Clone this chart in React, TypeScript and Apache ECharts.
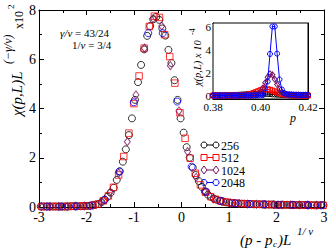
import React, { useEffect, useRef } from 'react';
import * as echarts from 'echarts';

// ---------------- data ----------------
const SIZE_LABELS = ['256', '512', '1024', '2048'];
const SIZES = [256, 512, 1024, 2048];
const COLORS = ['#000000', '#ff0000', '#7a1060', '#0000ff'];
const PC = 0.4073; // critical point
const GAMMA_NU = 43 / 24;
const INV_NU = 3 / 4;

const P_256 = [0.361, 0.362, 0.363, 0.364, 0.365, 0.366, 0.367, 0.368, 0.369, 0.370,
  0.371, 0.372, 0.373, 0.374, 0.375, 0.376, 0.377, 0.378, 0.379, 0.380,
  0.381, 0.382, 0.383, 0.384, 0.385, 0.386, 0.387, 0.388, 0.389, 0.390,
  0.391, 0.392, 0.393, 0.394, 0.395, 0.396, 0.397, 0.398, 0.399, 0.400,
  0.401, 0.402, 0.403, 0.404, 0.405, 0.406, 0.407, 0.408, 0.409, 0.410,
  0.411, 0.412, 0.413, 0.414, 0.415, 0.416, 0.417, 0.418, 0.419, 0.420,
  0.421, 0.422, 0.423, 0.424, 0.425, 0.426, 0.427, 0.428, 0.429, 0.430,
  0.431, 0.432, 0.433, 0.434, 0.435, 0.436, 0.437, 0.438, 0.439, 0.440,
  0.441, 0.442, 0.443, 0.444, 0.445, 0.446, 0.447, 0.448, 0.449, 0.450,
  0.451, 0.452, 0.453, 0.454];
const Y_256 = [0.02, 0.02, 0.02, 0.02, 0.02, 0.02, 0.02, 0.02, 0.02, 0.02,
  0.03, 0.03, 0.03, 0.03, 0.04, 0.04, 0.05, 0.07, 0.09, 0.12,
  0.20, 0.29, 0.42, 0.58, 0.78, 1.10, 1.45, 1.84, 2.34, 2.92,
  3.60, 4.35, 5.07, 5.77, 6.40, 6.95, 7.35, 7.62, 7.72, 7.60,
  7.25, 6.96, 6.38, 5.85, 5.15, 4.35, 3.60, 3.02, 2.43, 2.00,
  1.60, 1.30, 1.05, 0.82, 0.63, 0.50, 0.41, 0.34, 0.29, 0.25,
  0.22, 0.19, 0.17, 0.16, 0.15, 0.14, 0.13, 0.13, 0.12, 0.12,
  0.11, 0.11, 0.11, 0.10, 0.10, 0.10, 0.10, 0.09, 0.09, 0.09,
  0.09, 0.09, 0.08, 0.08, 0.08, 0.08, 0.08, 0.08, 0.07, 0.07,
  0.07, 0.07, 0.07, 0.07];

const P_512 = [0.380, 0.381, 0.382, 0.383, 0.384, 0.385, 0.386, 0.387, 0.388, 0.389,
  0.390, 0.391, 0.392, 0.393, 0.394, 0.395, 0.396, 0.397, 0.398, 0.399,
  0.400, 0.401, 0.402, 0.403, 0.404, 0.405, 0.406, 0.407, 0.408, 0.409,
  0.410, 0.411, 0.412, 0.413, 0.414, 0.415, 0.416, 0.417, 0.418, 0.419,
  0.420, 0.421, 0.422, 0.423, 0.424, 0.425, 0.426, 0.427, 0.428, 0.429,
  0.430, 0.431, 0.432, 0.433, 0.434, 0.435];
const Y_512 = [0.02, 0.02, 0.02, 0.02, 0.02, 0.02, 0.03, 0.03, 0.04, 0.05,
  0.07, 0.12, 0.25, 0.45, 0.80, 1.30, 2.05, 3.00, 4.20, 5.32,
  6.45, 7.33, 7.75, 7.70, 7.00, 6.11, 5.03, 3.83, 2.79, 1.98,
  1.37, 0.90, 0.60, 0.42, 0.31, 0.24, 0.20, 0.17, 0.15, 0.14,
  0.13, 0.12, 0.11, 0.11, 0.10, 0.10, 0.09, 0.09, 0.09, 0.08,
  0.08, 0.08, 0.08, 0.07, 0.07, 0.07];

const P_1024 = [0.380, 0.381, 0.382, 0.383, 0.384, 0.385, 0.386, 0.387, 0.388, 0.389,
  0.390, 0.391, 0.392, 0.393, 0.394, 0.395, 0.396, 0.397, 0.398, 0.399,
  0.400, 0.401, 0.402, 0.403, 0.404, 0.405, 0.406, 0.407, 0.408, 0.409,
  0.410, 0.411, 0.412, 0.413, 0.414, 0.415, 0.416, 0.417, 0.418, 0.419,
  0.420, 0.421, 0.422, 0.423];
const Y_1024 = [0.01, 0.01, 0.01, 0.01, 0.01, 0.01, 0.01, 0.02, 0.02, 0.02,
  0.02, 0.02, 0.02, 0.02, 0.02, 0.03, 0.04, 0.07, 0.20, 0.60,
  1.38, 2.65, 4.55, 6.45, 7.65, 7.35, 5.74, 3.90, 2.25, 1.20,
  0.62, 0.34, 0.23, 0.17, 0.14, 0.12, 0.11, 0.10, 0.10, 0.09,
  0.09, 0.08, 0.08, 0.07];

const P_2048 = [0.380, 0.381, 0.382, 0.383, 0.384, 0.385, 0.386, 0.387, 0.388, 0.389,
  0.390, 0.391, 0.392, 0.393, 0.394, 0.395, 0.396, 0.397, 0.398, 0.399,
  0.400, 0.401, 0.402, 0.403, 0.404, 0.405, 0.406, 0.407, 0.408, 0.409,
  0.410, 0.411, 0.412, 0.413, 0.414, 0.415, 0.416, 0.417, 0.418, 0.419,
  0.420];
const Y_2048 = [0.01, 0.01, 0.01, 0.01, 0.01, 0.01, 0.01, 0.01, 0.01, 0.01,
  0.01, 0.01, 0.01, 0.01, 0.01, 0.01, 0.01, 0.02, 0.02, 0.02,
  0.03, 0.05, 0.30, 1.44, 4.25, 7.06, 7.06, 4.28, 1.64, 0.62,
  0.25, 0.15, 0.12, 0.11, 0.09, 0.09, 0.08, 0.07, 0.07, 0.07,
  0.06];

const P_LIST = [P_256, P_512, P_1024, P_2048];
const Y_LIST = [Y_256, Y_512, Y_1024, Y_2048];

const MAIN_X_TICKS = { min: -3, max: 3, interval: 1 };
const MAIN_Y_TICKS = { min: 0, max: 8, interval: 2 };
const INSET_X_TICKS = { min: 0.38, max: 0.42, interval: 0.02 };
const INSET_Y_RANGE = { min: -0.3, max: 6.35 };

// ---------------- chart ----------------
const FONT = '"Liberation Serif", "Times New Roman", serif';

function buildOption() {
  const mainSymbols = ['circle', 'rect', 'diamond', 'circle'];
  const mainSizes: any[] = [7, 6.5, [6, 8], 7];
  const series: any[] = [];
  SIZES.forEach((L, k) => {
    const scaleX = Math.pow(L, INV_NU);
    series.push({
      type: 'scatter',
      name: SIZE_LABELS[k],
      xAxisIndex: 0,
      yAxisIndex: 0,
      symbol: mainSymbols[k],
      symbolSize: mainSizes[k],
      clip: true,
      itemStyle: { color: 'rgba(0,0,0,0)', borderColor: COLORS[k], borderWidth: 1 },
      data: P_LIST[k].map((p, i) => [(p - PC) * scaleX, Y_LIST[k][i]]),
      z: 2 + k,
    });
  });
  SIZES.forEach((L, k) => {
    const scaleY = Math.pow(L, GAMMA_NU) * 1e-6;
    series.push({
      type: 'line',
      name: SIZE_LABELS[k] + ' inset',
      xAxisIndex: 2,
      yAxisIndex: 2,
      symbol: mainSymbols[k],
      symbolSize: k === 2 ? [5, 6] : 5,
      showSymbol: true,
      clip: true,
      lineStyle: { color: COLORS[k], width: 1 },
      itemStyle: { color: 'rgba(0,0,0,0)', borderColor: COLORS[k], borderWidth: 1 },
      data: P_LIST[k].map((p, i) => [p, Y_LIST[k][i] * scaleY]),
      z: 12 + k,
    });
  });

  const tickStyle = { color: '#000', width: 1 };
  const mk = (extra: any, labels: boolean, labelCfg: any, tickLen: number, minorLen: number) => ({
    type: 'value',
    axisLine: { show: true, onZero: false, lineStyle: tickStyle },
    axisTick: { show: true, inside: true, length: tickLen, lineStyle: tickStyle },
    minorTick: { show: true, splitNumber: 2, length: minorLen, lineStyle: tickStyle },
    splitLine: { show: false },
    minorSplitLine: { show: false },
    axisLabel: labels ? labelCfg : { show: false },
    ...extra,
  });

  const mainXLabel = { show: true, margin: 3, color: '#000', fontSize: 14, fontFamily: FONT, formatter: (v: number) => String(v) };
  const mainYLabel = { show: true, margin: 3, color: '#000', fontSize: 14, fontFamily: FONT, formatter: (v: number) => String(v) };
  const insetXLabel = { show: true, margin: 2, color: '#000', fontSize: 11, fontFamily: FONT, formatter: (v: number) => v.toFixed(2) };
  const insetYLabel = {
    show: true, margin: 2, color: '#000', fontSize: 11, fontFamily: FONT,
    formatter: (v: number) => {
      const r = Math.round(v);
      return Math.abs(v - r) < 1e-6 && r % 2 === 0 ? String(r) : '';
    },
  };

  const xAxis = [
    mk({ gridIndex: 0, position: 'bottom', ...MAIN_X_TICKS }, true, mainXLabel, 5, 3),
    mk({ gridIndex: 0, position: 'top', ...MAIN_X_TICKS }, false, null, 5, 3),
    mk({ gridIndex: 1, position: 'bottom', ...INSET_X_TICKS }, true, insetXLabel, 4, 2),
    mk({ gridIndex: 1, position: 'top', ...INSET_X_TICKS }, false, null, 4, 2),
  ];
  const yAxis = [
    mk({ gridIndex: 0, position: 'left', ...MAIN_Y_TICKS }, true, mainYLabel, 5, 3),
    mk({ gridIndex: 0, position: 'right', ...MAIN_Y_TICKS }, false, null, 5, 3),
    mk({ gridIndex: 1, position: 'left', ...INSET_Y_RANGE, splitNumber: 3 }, true, insetYLabel, 4, 2),
    mk({ gridIndex: 1, position: 'right', ...INSET_Y_RANGE, splitNumber: 3 }, false, null, 4, 2),
  ];

  const txt = (x: number, y: number, text: string, font: string, extra: any = {}) => ({
    type: 'text', x, y, silent: true,
    style: {
      text, font, fill: '#000',
      textAlign: 'left', textVerticalAlign: 'middle', align: 'left', verticalAlign: 'middle',
      ...extra,
    },
  });

  // legend
  const legendY = [145, 157.5, 170, 182.5];
  const legendItems: any[] = [];
  SIZES.forEach((_, k) => {
    const y = legendY[k];
    const c = COLORS[k];
    const x1 = 204, x2 = 216;
    legendItems.push({ type: 'line', silent: true, shape: { x1, y1: y, x2, y2: y }, style: { stroke: c, lineWidth: 1 } });
    [x1, x2].forEach((cx) => {
      if (k === 1) {
        legendItems.push({ type: 'rect', silent: true, shape: { x: cx - 3, y: y - 3, width: 6, height: 6 }, style: { fill: '#fff', stroke: c, lineWidth: 1 } });
      } else if (k === 2) {
        legendItems.push({ type: 'polygon', silent: true, shape: { points: [[cx, y - 4], [cx + 3, y], [cx, y + 4], [cx - 3, y]] }, style: { fill: '#fff', stroke: c, lineWidth: 1 } });
      } else {
        legendItems.push({ type: 'circle', silent: true, shape: { cx, cy: y, r: 3 }, style: { fill: '#fff', stroke: c, lineWidth: 1 } });
      }
    });
    legendItems.push(txt(221, y + 0.5, SIZE_LABELS[k], `12px ${FONT}`));
  });

  const graphic: any[] = [
    // main y title
    {
      type: 'group', x: 17, y: 116, rotation: Math.PI / 2, silent: true,
      children: [
        txt(0, 0, 'χ(p,L)L', `italic 15px ${FONT}`),
        txt(52, -9, '(−γ/ν)', `italic 12px ${FONT}`),
        txt(87, 2, 'x10', `12px ${FONT}`),
        txt(107, -6, '2', `9px ${FONT}`),
      ],
    },
    // main x title
    txt(240, 240, '(p - p', `italic 15px ${FONT}`),
    txt(273, 244, 'c', `italic 9px ${FONT}`),
    txt(278, 240, ')L', `italic 15px ${FONT}`),
    txt(297, 231, '1/ ν', `italic 11px ${FONT}`),
    // annotations
    {
      type: 'text', x: 60, y: 33, silent: true,
      style: {
        text: '{i|γ/ν} = 43/24', font: `11px ${FONT}`, fill: '#000',
        textAlign: 'left', textVerticalAlign: 'middle', align: 'left', verticalAlign: 'middle',
        rich: { i: { fontStyle: 'italic', fontSize: 11, fontFamily: FONT } },
      },
    },
    {
      type: 'text', x: 72, y: 45, silent: true,
      style: {
        text: '1/{i|ν} = 3/4', font: `11px ${FONT}`, fill: '#000',
        textAlign: 'left', textVerticalAlign: 'middle', align: 'left', verticalAlign: 'middle',
        rich: { i: { fontStyle: 'italic', fontSize: 11, fontFamily: FONT } },
      },
    },
    // inset y title
    {
      type: 'group', x: 197, y: 86, rotation: Math.PI / 2, silent: true,
      children: [
        txt(0, 0, 'χ(p,L) x 10', `italic 10.5px ${FONT}`),
        txt(51, -5, '-4', `8px ${FONT}`),
      ],
    },
    // inset x title
    txt(290, 118, 'p', `italic 12px ${FONT}`),
    ...legendItems,
  ];

  return {
    animation: false,
    backgroundColor: '#fff',
    grid: [
      { left: 39, top: 10, width: 285, height: 197, containLabel: false, outerBoundsMode: 'none', show: false },
      { left: 213, top: 23, width: 95, height: 76, containLabel: false, outerBoundsMode: 'none', show: true, backgroundColor: '#fff', borderColor: '#000', borderWidth: 1, z: 5 },
    ],
    xAxis,
    yAxis,
    series,
    graphic,
  };
}

export default function App() {
  const ref = useRef<HTMLDivElement>(null);
  useEffect(() => {
    if (!ref.current) return;
    const chart = echarts.init(ref.current, undefined, { renderer: 'svg', width: 329, height: 249 });
    chart.setOption(buildOption() as any);
    return () => chart.dispose();
  }, []);
  return (
    <div
      ref={ref}
      style={{ position: 'fixed', left: 0, top: 0, width: 329, height: 249, background: '#fff' }}
    />
  );
}
